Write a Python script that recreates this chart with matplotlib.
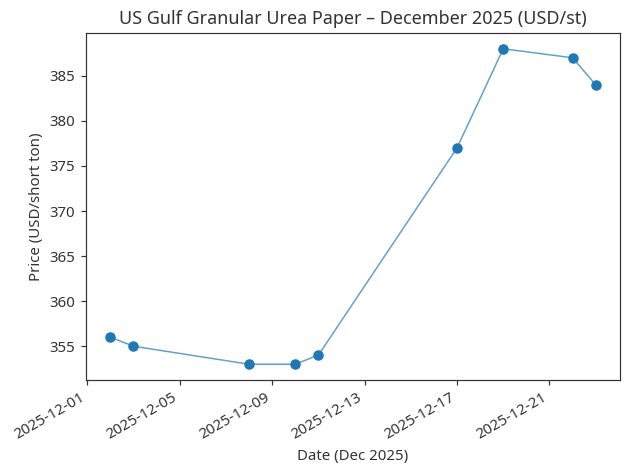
import pandas as pd
import matplotlib
matplotlib.use("Agg")
import matplotlib.pyplot as plt

plt.rcParams['font.family'] = ['Noto Sans', 'DejaVu Sans']
plt.rcParams['text.color'] = '#333333'
plt.rcParams['axes.labelcolor'] = '#333333'
plt.rcParams['xtick.color'] = '#333333'
plt.rcParams['ytick.color'] = '#333333'
plt.rcParams['axes.edgecolor'] = '#333333'

dates = ["2025-12-02", "2025-12-03", "2025-12-08", "2025-12-10", "2025-12-11",
         "2025-12-17", "2025-12-19", "2025-12-22", "2025-12-23"]
prices = [356, 355, 353, 353, 354, 377, 388, 387, 384]

df = pd.DataFrame({"date": pd.to_datetime(dates), "price": prices})

W, H = 629, 470
dpi = 108
fig, ax = plt.subplots(1, 1, figsize=(W / dpi, H / dpi), dpi=dpi)
ax.plot(df["date"], df["price"], color="#1f77b4", linewidth=1, alpha=0.7)
ax.plot(df["date"], df["price"], "o", color="#1f77b4", markersize=6)
ax.set_title("US Gulf Granular Urea Paper \u2013 December 2025 (USD/st)", fontsize=12)
ax.set_xlabel("Date (Dec 2025)")
ax.set_ylabel("Price (USD/short ton)")
fig.autofmt_xdate()
fig.subplots_adjust(left=86 / W, right=620 / W, top=1 - 33 / H, bottom=1 - 380 / H)
plt.savefig("out.png", dpi=dpi)
